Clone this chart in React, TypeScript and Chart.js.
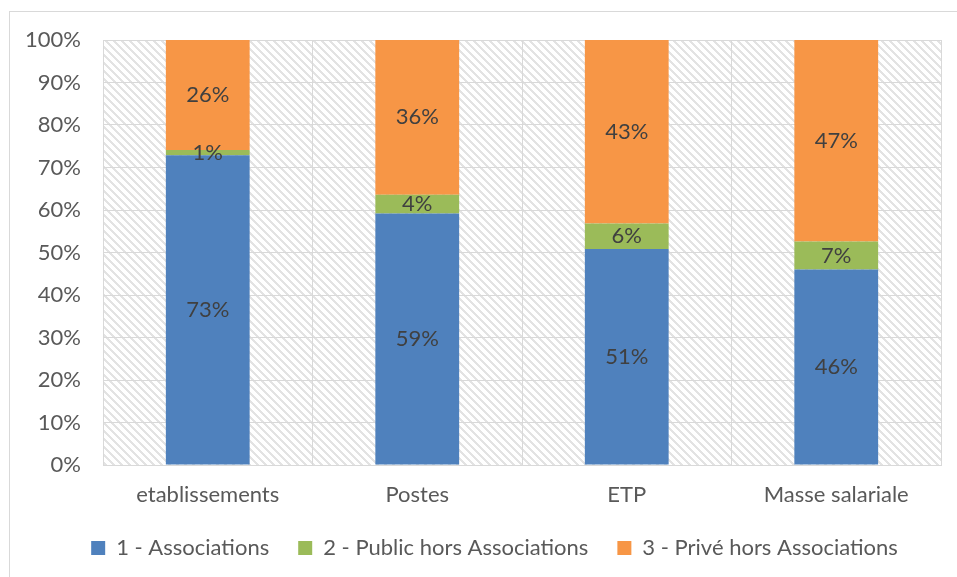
import React, { useEffect, useRef } from "react";
import { Chart, registerables } from "chart.js";

Chart.register(...registerables);

const categories = ["etablissements", "Postes", "ETP", "Masse salariale"];
const associations = [72.9, 59.2, 50.8, 46.0];
const publicHors = [1.2, 4.4, 6.0, 6.6];
const priveHors = [25.9, 36.4, 43.2, 47.4];
const seriesNames = ["1 - Associations", "2 - Public hors Associations", "3 - Privé hors Associations"];
const seriesColors = ["#4f81bd", "#9bbb59", "#f79646"];
const yTicks = [0, 10, 20, 30, 40, 50, 60, 70, 80, 90, 100];

const FONT = "Lato";
const FS = 22;

function makePattern(ctx: CanvasRenderingContext2D) {
  const c = document.createElement("canvas");
  c.width = 8;
  c.height = 8;
  const p = c.getContext("2d")!;
  p.fillStyle = "#ffffff";
  p.fillRect(0, 0, 8, 8);
  p.fillStyle = "#e3e3e3";
  for (let i = 0; i < 8; i++) {
    for (let k = 0; k < 3; k++) {
      p.fillRect((i + k) % 8, i, 1, 1);
    }
  }
  return ctx.createPattern(c, "repeat");
}

const bgPlugin = {
  id: "bgPattern",
  beforeDraw(chart: any) {
    const { ctx, chartArea } = chart;
    ctx.save();
    ctx.fillStyle = "#ffffff";
    ctx.fillRect(0, 0, chart.width, chart.height);
    const pat = makePattern(ctx);
    if (pat) {
      ctx.fillStyle = pat;
      ctx.fillRect(chartArea.left, chartArea.top, chartArea.right - chartArea.left, chartArea.bottom - chartArea.top);
    }
    ctx.restore();
  },
};

const legendShift = {
  id: "legendShift",
  afterLayout(chart: any) {
    if (chart.legend) {
      chart.legend.left += 24;
      chart.legend.right += 24;
    }
  },
};

const labelPlugin = {
  id: "segLabels",
  afterDatasetsDraw(chart: any) {
    const { ctx } = chart;
    ctx.save();
    ctx.font = `${FS}px ${FONT}`;
    ctx.fillStyle = "#404040";
    ctx.textAlign = "center";
    ctx.textBaseline = "middle";
    chart.data.datasets.forEach((ds: any, di: number) => {
      const meta = chart.getDatasetMeta(di);
      meta.data.forEach((el: any, i: number) => {
        const v = ds.data[i];
        const y = (el.y + el.base) / 2;
        ctx.fillText(Math.round(v) + "%", el.x, y);
      });
    });
    ctx.restore();
  },
};

export default function App() {
  const ref = useRef<HTMLCanvasElement>(null);
  useEffect(() => {
    const canvas = ref.current!;
    const data = [associations, publicHors, priveHors];
    const chart = new Chart(canvas, {
      type: "bar",
      data: {
        labels: categories,
        datasets: data.map((d, i) => ({
          label: seriesNames[i],
          data: d,
          backgroundColor: seriesColors[i],
          borderWidth: 0,
          categoryPercentage: 0.4,
          barPercentage: 1,
        })),
      },
      options: {
        responsive: false,
        animation: false,
        layout: { padding: { left: 0, right: 16, top: 40, bottom: 8 } },
        plugins: {
          legend: {
            position: "bottom",
            labels: {
              font: { family: FONT, size: FS },
              color: "#595959",
              boxWidth: 14,
              boxHeight: 14,
              padding: 29,
            },
          },
          tooltip: { enabled: false },
        },
        scales: {
          x: {
            stacked: true,
            grid: { color: "#d9d9d9", drawTicks: false, offset: true },
            border: { color: "#d9d9d9" },
            ticks: { font: { family: FONT, size: FS }, color: "#595959", padding: 17 },
            afterFit: (s: any) => {
              s.height = 43;
            },
          },
          y: {
            stacked: true,
            min: 0,
            max: 100,
            afterBuildTicks: (s: any) => {
              s.ticks = yTicks.map((v) => ({ value: v }));
            },
            grid: { color: "#d9d9d9", drawTicks: false },
            border: { color: "#d9d9d9" },
            ticks: {
              font: { family: FONT, size: FS },
              color: "#595959",
              padding: 22,
              callback: (v: any) => v + "%",
            },
            afterFit: (s: any) => {
              s.width = 103;
            },
          },
        },
      },
      plugins: [bgPlugin, legendShift, labelPlugin],
    });
    return () => chart.destroy();
  }, []);
  return (
    <>
      <div
        style={{
          position: "fixed",
          left: 0,
          top: 0,
          width: 957,
          height: 577,
          background: "#fff",
        }}
      >
        <canvas ref={ref} width={957} height={577} style={{ display: "block" }} />
      </div>
      <div
        style={{
          position: "fixed",
          left: 9,
          top: 11,
          right: -20,
          bottom: -20,
          border: "1px solid #d9d9d9",
          pointerEvents: "none",
        }}
      />
    </>
  );
}
